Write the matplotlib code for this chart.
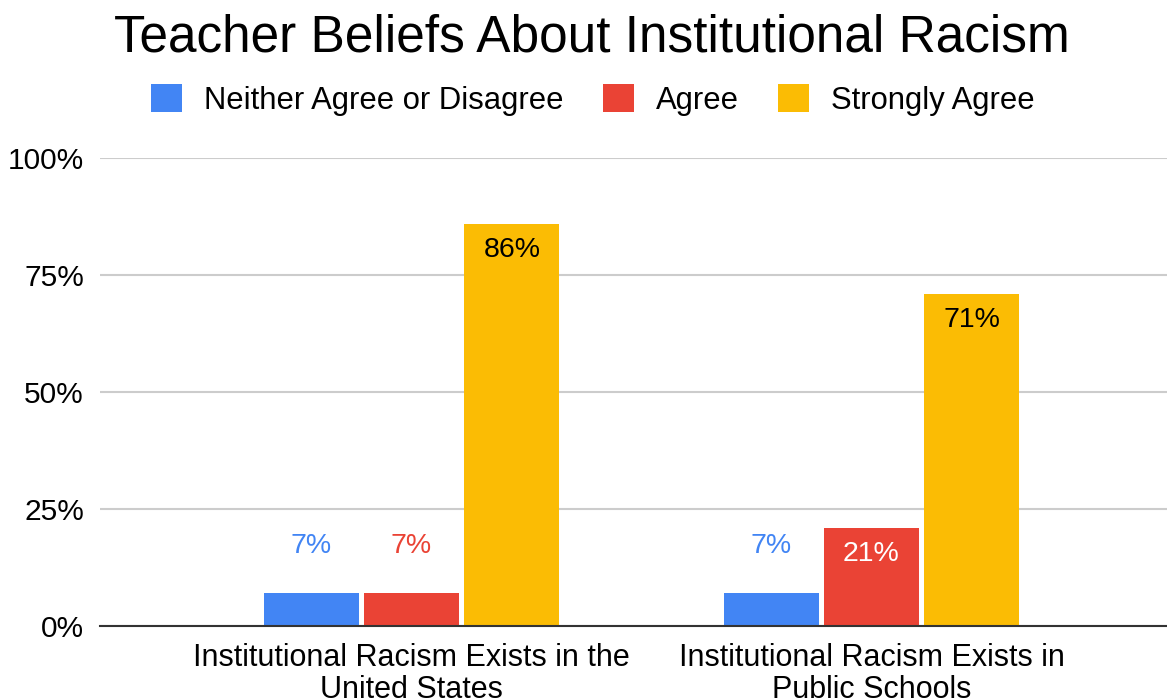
import numpy as np
import matplotlib.pyplot as plt
from matplotlib.patches import Patch
from matplotlib.ticker import PercentFormatter

plt.rcParams['font.family'] = ['Liberation Sans', 'DejaVu Sans']

# Données
categories = ['Institutional Racism Exists in the\nUnited States',
              'Institutional Racism Exists in\nPublic Schools']
series = ['Neither Agree or Disagree', 'Agree', 'Strongly Agree']
neither = [0.07, 0.07]
agree = [0.07, 0.21]
strongly = [0.86, 0.71]
colors = ['#4285F4', '#EA4335', '#FBBC04']
yticks = [0, 0.25, 0.5, 0.75, 1.0]

fig = plt.figure(figsize=(11.67, 6.98), dpi=100)
ax = fig.add_axes([100 / 1167, 1 - 626 / 698, 1 - 100 / 1167, (626 - 158) / 698])

x = np.arange(len(categories))
step = 100.3 / 460
width = 95 / 460
values = [neither, agree, strongly]

for i, (vals, col) in enumerate(zip(values, colors)):
    pos = x + (i - 1) * step
    bars = ax.bar(pos, vals, width, color=col, zorder=3)
    for b, v in zip(bars, vals):
        cx = b.get_x() + b.get_width() / 2
        label = f'{v * 100:.0f}%'
        if v < 0.1:
            # étiquette au-dessus de la barre, couleur de la série
            ax.annotate(label, (cx, v), xytext=(0, 47), textcoords='offset pixels',
                        ha='center', va='center', fontsize=20.5, color=col)
        else:
            tcol = 'white' if col == '#EA4335' else 'black'
            ax.annotate(label, (cx, v), xytext=(0, -26), textcoords='offset pixels',
                        ha='center', va='center', fontsize=20.5, color=tcol)

ax.set_xlim((100 - 411.5) / 460, (1167 - 411.5) / 460)
ax.set_ylim(0, 1)
ax.set_yticks(yticks)
ax.yaxis.set_major_formatter(PercentFormatter(1.0, decimals=0))
ax.set_xticks(x)
ax.set_xticklabels(categories, fontsize=22, linespacing=1.12)
ax.tick_params(axis='x', length=0, pad=12)
ax.tick_params(axis='y', length=0, pad=11.5, labelsize=21.5)
ax.grid(axis='y', color='#cccccc', linewidth=1.5, zorder=0)
for s in ['top', 'right', 'left']:
    ax.spines[s].set_visible(False)
ax.spines['bottom'].set_color('#333333')
ax.spines['bottom'].set_linewidth(1.5)
ax.spines['bottom'].set_zorder(4)

fig.text(0.507, 0.945, 'Teacher Beliefs About Institutional Racism',
         ha='center', va='center', fontsize=37)

handles = [Patch(facecolor=c, edgecolor='none') for c in colors]
fig.legend(handles, series, loc='center', bbox_to_anchor=(0.508, 0.857), ncol=3,
           frameon=False, fontsize=22.3, handlelength=1.0, handleheight=1.0,
           handletextpad=0.72, columnspacing=1.25)

fig.savefig('out.png', dpi=100)
